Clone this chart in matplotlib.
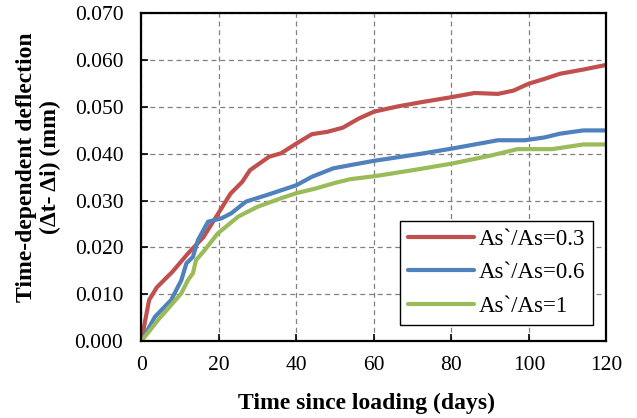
import matplotlib
matplotlib.use("Agg")
import matplotlib.pyplot as plt
from matplotlib.ticker import FormatStrFormatter

# deflection (mm) vs time since loading (days) for three As`/As ratios
days_03 = [0, 1, 2, 4, 8, 12, 16, 20, 23, 26, 28, 33, 36, 40, 44, 48, 52, 56, 60,
           66, 72, 80, 86, 92, 96, 100, 104, 108, 114, 120]
defl_03 = [0.0, 0.0045, 0.0088, 0.0115, 0.0148, 0.0187, 0.0222, 0.0275, 0.0315, 0.034,
           0.0365, 0.0394, 0.0401, 0.0422, 0.0442, 0.0447, 0.0456, 0.0475, 0.049,
           0.0501, 0.051, 0.0521, 0.053, 0.0528, 0.0535, 0.055, 0.056, 0.0571, 0.058, 0.059]

days_06 = [0, 3.5, 7.7, 10.3, 11.6, 13.3, 14.6, 17.2, 20.6, 23.2, 25, 27, 32, 37.5, 40,
           44, 49.5, 54, 60, 72, 80, 92, 99, 104, 108, 114, 120]
defl_06 = [0.0, 0.0052, 0.0088, 0.013, 0.0166, 0.018, 0.0216, 0.0255, 0.0262, 0.0273,
           0.0285, 0.0298, 0.0311, 0.0326, 0.0333, 0.0351, 0.0369, 0.0376, 0.0385,
           0.040, 0.0411, 0.0429, 0.0429, 0.0435, 0.0443, 0.045, 0.045]

days_1 = [0, 4.3, 10.3, 12, 13.3, 14.1, 16.3, 19.7, 25, 30, 36, 40, 45, 50, 54, 60,
          70, 80, 90, 97, 106, 114, 120]
defl_1 = [0.0, 0.0045, 0.0102, 0.013, 0.0145, 0.0173, 0.0194, 0.023, 0.0266, 0.0287,
          0.0305, 0.0316, 0.0326, 0.0338, 0.0346, 0.0352, 0.0365, 0.0379, 0.0396,
          0.041, 0.041, 0.042, 0.042]

labels = ["As`/As=0.3", "As`/As=0.6", "As`/As=1"]
colors = ["#C0504D", "#4F81BD", "#9BBB59"]

plt.rcParams["font.family"] = ["Liberation Serif", "DejaVu Serif"]

fig = plt.figure(figsize=(6.37, 4.18), dpi=100)
ax = fig.add_axes([0.222, 0.184, 0.730, 0.784])

for x, y, lab, c in zip([days_03, days_06, days_1], [defl_03, defl_06, defl_1], labels, colors):
    ax.plot(x, y, color=c, lw=3.0, label=lab, solid_capstyle="round", solid_joinstyle="round")

ax.set_xlim(0, 120)
ax.set_ylim(0, 0.070)
ax.set_xticks(range(0, 121, 20))
ax.set_yticks([i * 0.01 for i in range(8)])
ax.yaxis.set_major_formatter(FormatStrFormatter("%.3f"))
ax.tick_params(direction="in", length=5, width=1.2, labelsize=15.5)
ax.tick_params(axis="y", pad=13)
ax.tick_params(axis="x", pad=11)
ax.grid(True, color="#808080", ls=(0, (4, 3)), lw=0.9)
for s in ax.spines.values():
    s.set_linewidth(1.6)

fig.text(0.575, 0.036, "Time since loading (days)", fontsize=17, fontweight="bold",
         ha="center", va="center")
fig.text(0.06, 0.60, "Time-dependent deflection\n(\u0394t- \u0394i) (mm)", fontsize=17,
         fontweight="bold", ha="center", va="center", rotation=90, linespacing=1.2)

leg = ax.legend(loc="lower right", bbox_to_anchor=(0.972, 0.049), fontsize=16.5,
                fancybox=False, edgecolor="black", framealpha=1, handlelength=2.9,
                borderpad=0.35, labelspacing=0.55, handletextpad=0.2, borderaxespad=0)
leg.get_frame().set_linewidth(1.0)

fig.savefig("out.png", dpi=100)
